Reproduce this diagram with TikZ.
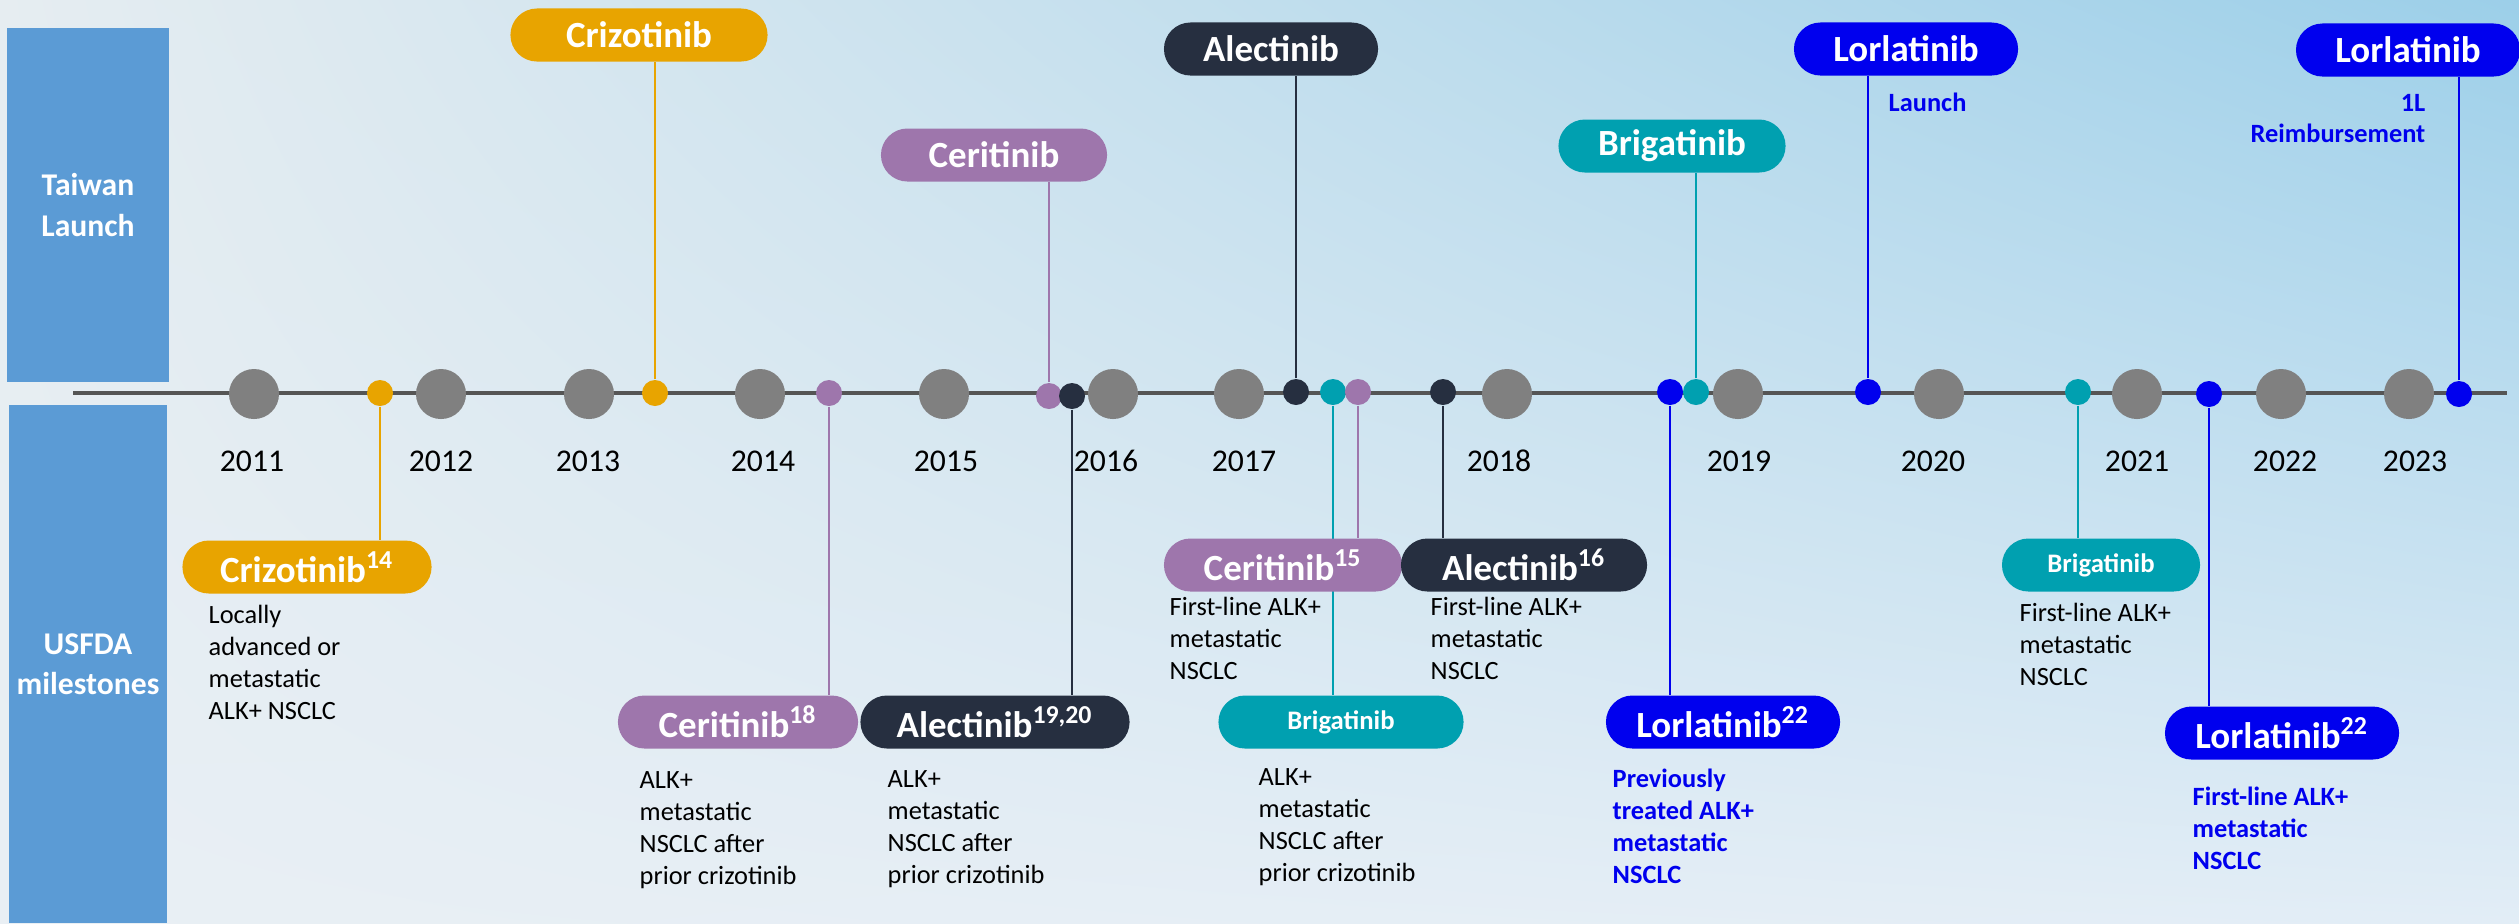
\documentclass[tikz,border=0pt]{standalone}
\usepackage{fontspec}
\setmainfont{Carlito}
\usetikzlibrary{shadings}
\pgfdeclarelayer{bg}
\pgfdeclarelayer{lines}
\pgfsetlayers{bg,lines,main}
\definecolor{cOrange}{HTML}{E8A400}
\definecolor{cPurple}{HTML}{9E76AC}
\definecolor{cNavy}{HTML}{262F40}
\definecolor{cTeal}{HTML}{00A0B0}
\definecolor{cBlue}{HTML}{0000EE}
\definecolor{cBox}{HTML}{5B9BD5}
\definecolor{cGray}{HTML}{808080}
\definecolor{cLine}{HTML}{555555}
\definecolor{bgUL}{HTML}{E6EDF1}
\definecolor{bgUR}{HTML}{9CCFE9}
\definecolor{bgLL}{HTML}{E9EFF4}
\definecolor{bgLR}{HTML}{E2EDF6}
\newcommand\pillfnt{\fontsize{10.5}{12}\selectfont\bfseries}
\newcommand\smallpillfnt{\fontsize{7.6}{9}\selectfont\bfseries}
\newcommand\descfnt{\fontsize{7.5}{9.1}\selectfont}
\newcommand\labelfnt{\fontsize{9}{11.4}\selectfont\bfseries}
\newcommand\yearfnt{\fontsize{9}{11}\selectfont}
\begin{document}
\begin{tikzpicture}[x=0.01cm,y=-0.01cm,
  pill/.style={rounded corners=0.265cm, minimum height=0.53cm, inner sep=0pt, text=white, font=\pillfnt, fill=#1},
  smallpill/.style={pill=#1, font=\smallpillfnt},
  dot/.style={circle, fill=#1, minimum size=0.26cm, inner sep=0pt},
  yeardot/.style={circle, fill=cGray, minimum size=0.5cm, inner sep=0pt},
  conn/.style={draw=#1, line width=0.65pt},
  desc/.style={anchor=north west, align=left, inner sep=0pt, font=\descfnt},
  bdesc/.style={desc, font=\descfnt\bfseries, text=cBlue},
  sidebox/.style={fill=cBox, inner sep=0pt, text=white, font=\labelfnt, align=center},
  yearlbl/.style={font=\yearfnt, inner sep=0pt},
  timeline/.style={draw=cLine, line width=0.9pt}]
\useasboundingbox (0,0) rectangle (2519,923);
\begin{pgfonlayer}{bg}
\shade[upper left=bgUL, upper right=bgUR, lower left=bgLL, lower right=bgLR] (0,0) rectangle (2519,923);
\end{pgfonlayer}

% side boxes
\node[sidebox, minimum width=1.62cm, minimum height=3.54cm] (tw) at (88,205) {Taiwan\\Launch};
\node[sidebox, minimum width=1.58cm, minimum height=5.18cm] (us) at (88,664) {USFDA\\milestones};

% timeline
\coordinate (tlA) at (73,393);
\coordinate (tlB) at (2507,393);
\begin{pgfonlayer}{lines}
\draw[timeline] (tlA) -- (tlB);
\end{pgfonlayer}

% year circles and labels
\foreach \yr/\cx/\lx in {2011/254/252, 2012/441/441, 2013/589/588, 2014/760/763, 2015/944/946, 2016/1113/1106, 2017/1239/1244, 2018/1507/1499, 2019/1738/1739, 2020/1939/1933, 2021/2137/2137, 2022/2281/2285, 2023/2409/2415}{
  \node[yeardot] (c\yr) at (\cx,394) {};
  \node[yearlbl] (y\yr) at (\lx,461) {\yr};
}

% event dots
\node[dot=cOrange] (dCrizUS) at (380,393) {};
\node[dot=cOrange] (dCrizTW) at (655,393) {};
\node[dot=cPurple] (dCeriUS18) at (829,393) {};
\node[dot=cPurple] (dCeriTW) at (1049,396) {};
\node[dot=cNavy] (dAlecUS1920) at (1072,396) {};
\node[dot=cNavy] (dAlecTW) at (1296,392) {};
\node[dot=cTeal] (dBrigUS17) at (1333,392) {};
\node[dot=cPurple] (dCeriUS15) at (1358,392) {};
\node[dot=cNavy] (dAlecUS16) at (1443,392) {};
\node[dot=cBlue] (dLorlUS) at (1670,392) {};
\node[dot=cTeal] (dBrigTW) at (1696,392) {};
\node[dot=cBlue] (dLorlTW1) at (1868,392) {};
\node[dot=cTeal] (dBrigUS21) at (2078,392) {};
\node[dot=cBlue] (dLorlUS21) at (2209,394) {};
\node[dot=cBlue] (dLorlTW2) at (2459,394) {};

% Taiwan pills
\node[pill=cOrange, minimum width=2.57cm] (pCrizTW) at (639,35) {Crizotinib};
\node[pill=cPurple, minimum width=2.26cm] (pCeriTW) at (994,155) {Ceritinib};
\node[pill=cNavy, minimum width=2.14cm] (pAlecTW) at (1271,49) {Alectinib};
\node[pill=cTeal, minimum width=2.27cm] (pBrigTW) at (1672,146) {Brigatinib};
\node[pill=cBlue, minimum width=2.24cm] (pLorlTW1) at (1906,49) {Lorlatinib};
\node[pill=cBlue, minimum width=2.24cm] (pLorlTW2) at (2408,50) {Lorlatinib};

% USFDA pills
\node[pill=cOrange, minimum width=2.49cm] (pCriz14) at (307,567) {Crizotinib\textsuperscript{14}};
\node[pill=cPurple, minimum width=2.40cm] (pCeri18) at (738,722) {Ceritinib\textsuperscript{18}};
\node[pill=cNavy, minimum width=2.69cm] (pAlec1920) at (995,722) {Alectinib\textsuperscript{19,20}};
\node[smallpill=cTeal, minimum width=2.45cm] (pBrig17) at (1341,722) {Brigatinib};
\node[pill=cPurple, minimum width=2.38cm] (pCeri15) at (1283,565) {Ceritinib\textsuperscript{15}};
\node[pill=cNavy, minimum width=2.46cm] (pAlec16) at (1524,565) {Alectinib\textsuperscript{16}};
\node[pill=cBlue, minimum width=2.34cm] (pLorl22a) at (1723,722) {Lorlatinib\textsuperscript{22}};
\node[smallpill=cTeal, minimum width=1.98cm] (pBrig21) at (2101,565) {Brigatinib};
\node[pill=cBlue, minimum width=2.34cm] (pLorl22b) at (2282,733) {Lorlatinib\textsuperscript{22}};

% connectors
\begin{pgfonlayer}{lines}
\draw[conn=cOrange] (dCrizTW.north) -- (dCrizTW.north |- pCrizTW.south);
\draw[conn=cPurple] (dCeriTW.north) -- (dCeriTW.north |- pCeriTW.south);
\draw[conn=cNavy] (dAlecTW.north) -- (dAlecTW.north |- pAlecTW.south);
\draw[conn=cTeal] (dBrigTW.north) -- (dBrigTW.north |- pBrigTW.south);
\draw[conn=cBlue] (dLorlTW1.north) -- (dLorlTW1.north |- pLorlTW1.south);
\draw[conn=cBlue] (dLorlTW2.north) -- (dLorlTW2.north |- pLorlTW2.south);
\draw[conn=cOrange] (dCrizUS.south) -- (dCrizUS.south |- pCriz14.north);
\draw[conn=cPurple] (dCeriUS18.south) -- (dCeriUS18.south |- pCeri18.north);
\draw[conn=cNavy] (dAlecUS1920.south) -- (dAlecUS1920.south |- pAlec1920.north);
\draw[conn=cTeal] (dBrigUS17.south) -- (dBrigUS17.south |- pBrig17.north);
\draw[conn=cPurple] (dCeriUS15.south) -- (dCeriUS15.south |- pCeri15.north);
\draw[conn=cNavy] (dAlecUS16.south) -- (dAlecUS16.south |- pAlec16.north);
\draw[conn=cBlue] (dLorlUS.south) -- (dLorlUS.south |- pLorl22a.north);
\draw[conn=cTeal] (dBrigUS21.south) -- (dBrigUS21.south |- pBrig21.north);
\draw[conn=cBlue] (dLorlUS21.south) -- (dLorlUS21.south |- pLorl22b.north);
\end{pgfonlayer}

% descriptions
\node[desc] (tCriz14) at (208,604) {Locally\\advanced or\\metastatic\\ALK+ NSCLC};
\node[desc] (tCeri18) at (639,771) {ALK+\\metastatic\\NSCLC after\\prior crizotinib};
\node[desc] (tAlec1920) at (887,770) {ALK+\\metastatic\\NSCLC after\\prior crizotinib};
\node[desc] (tBrig17) at (1258,768) {ALK+\\metastatic\\NSCLC after\\prior crizotinib};
\node[desc] (tCeri15) at (1169,596) {First-line ALK+\\metastatic\\NSCLC};
\node[desc] (tAlec16) at (1430,596) {First-line ALK+\\metastatic\\NSCLC};
\node[bdesc] (tLorl22a) at (1612,768) {Previously\\treated ALK+\\metastatic\\NSCLC};
\node[desc] (tBrig21) at (2019,602) {First-line ALK+\\metastatic\\NSCLC};
\node[bdesc] (tLorl22b) at (2192,786) {First-line ALK+\\metastatic\\NSCLC};
\node[bdesc] (tLaunch) at (1888,92) {Launch};
\node[bdesc, anchor=north east, align=right, font=\fontsize{7.5}{8.8}\selectfont\bfseries] (tReimb) at (2426,94) {1L\\Reimbursement};
\end{tikzpicture}
\end{document}
